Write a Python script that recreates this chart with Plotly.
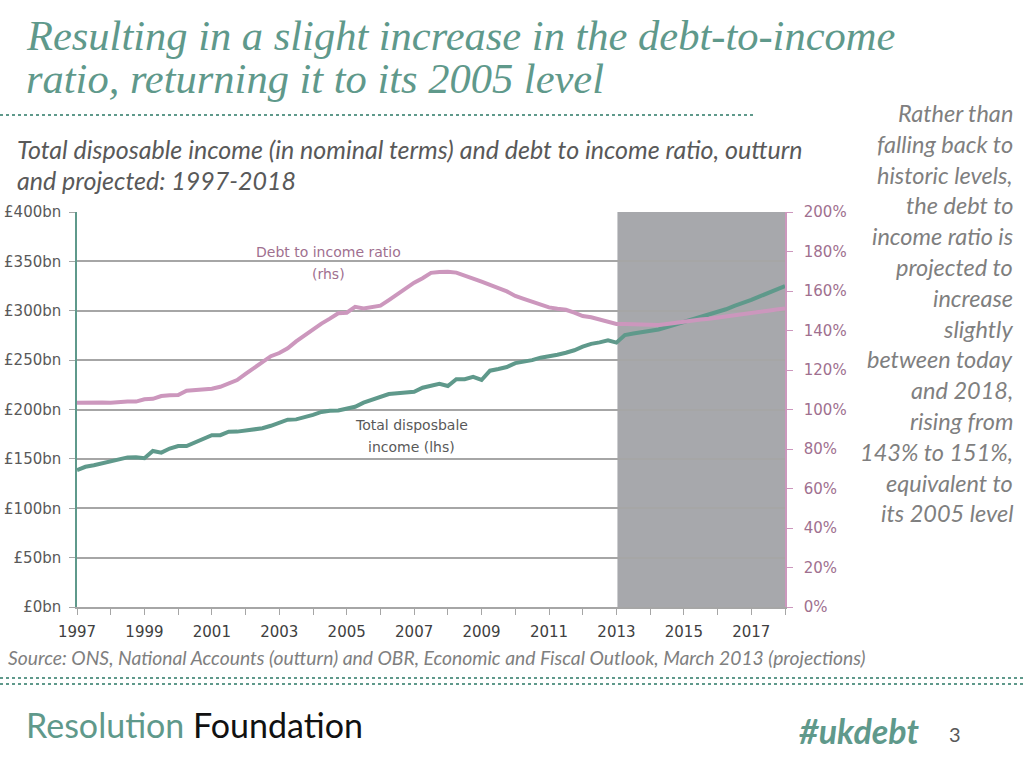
import plotly.graph_objects as go

# ---- data (quarterly, 1997 Q1 .. 2018 Q1) ----
quarters = [1997 + i / 4 for i in range(85)]

income_bn = [
    138.7, 142.0, 143.5, 145.5, 148.5, 149.5, 151.5, 151.6, 150.6, 158.0,
    156.3, 160.5, 163.0, 163.0, 167.0, 170.0, 174.0, 174.0, 177.5, 177.6,
    179.0, 180.6, 181.0, 183.5, 187.0, 189.7, 190.0, 192.0, 194.5, 197.5,
    198.8, 199.0, 201.0, 202.8, 207.0, 210.0, 212.3, 215.7, 216.5, 217.5,
    218.0, 222.0, 224.0, 226.0, 223.8, 230.6, 230.6, 233.0, 229.9, 239.3,
    241.0, 243.0, 247.0, 248.0, 250.0, 252.5, 253.5, 255.5, 257.5, 260.0,
    263.6, 266.5, 268.0, 270.0, 267.7, 275.4, 277.0, 278.0, 279.0, 281.0,
    283.5, 286.0, 288.5, 291.5, 293.5, 296.0, 298.0, 301.5, 305.0, 307.5,
    311.0, 314.5, 318.0, 321.5, 325.0,
]

debt_ratio_pct = [
    103.4, 103.6, 103.8, 103.5, 103.4, 103.8, 104.0, 104.0, 105.2, 105.4,
    106.8, 107.2, 107.3, 109.5, 109.7, 110.0, 110.5, 111.5, 113.0, 114.9,
    118.0, 121.0, 124.5, 127.0, 128.6, 131.0, 134.5, 137.5, 141.0, 143.5,
    146.0, 148.7, 149.0, 152.0, 151.2, 151.7, 152.6, 155.4, 158.5, 161.5,
    164.2, 166.5, 169.2, 169.6, 169.8, 169.3, 168.0, 166.3, 164.7, 163.3,
    161.5, 159.8, 157.5, 156.0, 154.5, 153.0, 151.7, 151.0, 150.5, 149.0,
    147.3, 146.7, 145.5, 144.2, 143.3, 143.3, 143.2, 143.0, 142.8, 142.8,
    143.3, 144.0, 144.5, 145.0, 145.6, 146.0, 146.5, 147.0, 147.6, 148.3,
    148.8, 149.3, 150.0, 150.6, 151.2,
]

projection_start = 2013.03
projection_end = 2018.05

x_tick_years = [1997, 1999, 2001, 2003, 2005, 2007, 2009, 2011, 2013, 2015, 2017]

title_lines = ["Resulting in a slight increase in the debt-to-income",
               "ratio, returning it to its 2005 level"]
subtitle_lines = ["Total disposable income (in nominal terms) and debt to income ratio, outturn",
                  "and projected: 1997-2018"]
side_text = ["Rather than", "falling back to", "historic levels,", "the debt to",
             "income ratio is", "projected to", "increase", "slightly",
             "between today", "and 2018,", "rising from", "143% to 151%,",
             "equivalent to", "its 2005 level"]
source_text = "Source: ONS, National Accounts (outturn) and OBR, Economic and Fiscal Outlook, March 2013 (projections)"

# ---- styles ----
TEAL = "#5f998b"
PINK = "#cc97bd"
MAUVE = "#a0708f"
GREY_TXT = "#595959"
GRID = "#a6a6a6"
SHADE = "#a7a8ac"

fig = go.Figure()

fig.add_trace(go.Scatter(x=quarters, y=income_bn, mode="lines",
                         line=dict(color=TEAL, width=4), yaxis="y",
                         name="Total disposable income (lhs)", hoverinfo="x+y"))
fig.add_trace(go.Scatter(x=quarters, y=debt_ratio_pct, mode="lines",
                         line=dict(color=PINK, width=4), yaxis="y2",
                         name="Debt to income ratio (rhs)", hoverinfo="x+y"))

# projection shading
fig.add_shape(type="rect", xref="x", yref="paper", x0=projection_start, x1=projection_end,
              y0=0, y1=1, fillcolor=SHADE, line=dict(width=0), layer="below")

PW, PH = 708, 395  # plot area size in px (left 77, top 212)


def px_to_paper(xp, yp):
    return (xp - 77) / PW, (607 - yp) / PH


# dotted separator lines
x0, y0 = px_to_paper(0, 115)
x1, _ = px_to_paper(755, 115)
fig.add_shape(type="line", xref="paper", yref="paper", x0=x0, x1=x1, y0=y0, y1=y0,
              line=dict(color=TEAL, width=2, dash="dot"))
for yy in (678, 684):
    x0, y0 = px_to_paper(0, yy)
    x1, _ = px_to_paper(1024, yy)
    fig.add_shape(type="line", xref="paper", yref="paper", x0=x0, x1=x1, y0=y0, y1=y0,
                  line=dict(color=TEAL, width=2, dash="dot"))

annotations = []


def add_text(text, xp, yp, size, color, family, xanchor="left", yanchor="middle"):
    x, y = px_to_paper(xp, yp)
    annotations.append(dict(text=text, x=x, y=y, xref="paper", yref="paper",
                            xanchor=xanchor, yanchor=yanchor, showarrow=False,
                            font=dict(size=size, color=color, family=family)))


SERIF = "Liberation Serif, DejaVu Serif, serif"
SANS = "Lato, Open Sans, sans-serif"
AXF = "DejaVu Sans, sans-serif"

add_text("<i>" + title_lines[0] + "</i>", 24, 35, 42.5, TEAL, SERIF)
add_text("<i>" + title_lines[1] + "</i>", 24, 78, 42.5, TEAL, SERIF)
add_text("<i>" + subtitle_lines[0] + "</i>", 15, 149, 25, GREY_TXT, SANS)
add_text("<i>" + subtitle_lines[1] + "</i>", 15, 180, 25, GREY_TXT, SANS)

for i, line in enumerate(side_text):
    add_text("<i>" + line + "</i>", 1015, 113 + i * 30.8, 23.5, "#7f7f7f", SANS, xanchor="right")

add_text("Debt to income ratio", 328, 252, 14, MAUVE, AXF, xanchor="center")
add_text("(rhs)", 328, 274, 14, MAUVE, AXF, xanchor="center")
add_text("Total disposbale", 411, 425, 14, GREY_TXT, AXF, xanchor="center")
add_text("income (lhs)", 411, 447, 14, GREY_TXT, AXF, xanchor="center")

add_text("<i>" + source_text + "</i>", 6, 657, 19.3, "#7f7f7f", SANS)

add_text("<span style='color:%s'>Resolution</span> Foundation" % TEAL, 24, 724, 34, "#111111", SANS)
add_text("<b><i>#ukdebt</i></b>", 921, 730, 34, TEAL, SANS, xanchor="right")
add_text("3", 955, 734, 20, GREY_TXT, SANS, xanchor="center")

fig.update_layout(
    width=1024, height=768,
    margin=dict(l=77, r=1024 - 77 - PW, t=212, b=768 - 607, autoexpand=False),
    paper_bgcolor="white", plot_bgcolor="rgba(0,0,0,0)",
    showlegend=False,
    annotations=annotations,
    font=dict(family=AXF, color=GREY_TXT),
    xaxis=dict(range=[1997, 2018], tickvals=x_tick_years, ticktext=[str(v) for v in x_tick_years],
               ticks="outside", ticklen=6, tickcolor=GRID, showgrid=False, automargin=False,
               showline=True, linecolor=GRID, linewidth=1.5, ticklabelstandoff=4,
               minor=dict(dtick=1, tick0=1997, ticks="outside", ticklen=6, tickcolor=GRID, showgrid=False),
               tickfont=dict(size=15, color="#404040"), zeroline=False, fixedrange=True),
    yaxis=dict(range=[0, 400], dtick=50, tickprefix="£", ticksuffix="bn", automargin=False,
               showgrid=True, gridcolor=GRID, gridwidth=1.5,
               showline=True, linecolor=TEAL, linewidth=1.5, ticklabelstandoff=5,
               ticks="outside", ticklen=6, tickcolor=GRID,
               tickfont=dict(size=15, color=GREY_TXT), zeroline=False, fixedrange=True),
    yaxis2=dict(range=[0, 200], dtick=20, ticksuffix="%", overlaying="y", side="right",
                showgrid=False, showline=True, linecolor=PINK, linewidth=1.5, ticklabelstandoff=8,
                ticks="outside", ticklen=6, tickcolor=PINK, automargin=False,
                tickfont=dict(size=15, color=MAUVE), zeroline=False, fixedrange=True),
)

fig.write_html("out.html", config={"displayModeBar": False},
               post_script="document.body.style.margin='0';document.body.style.overflow='hidden';")
